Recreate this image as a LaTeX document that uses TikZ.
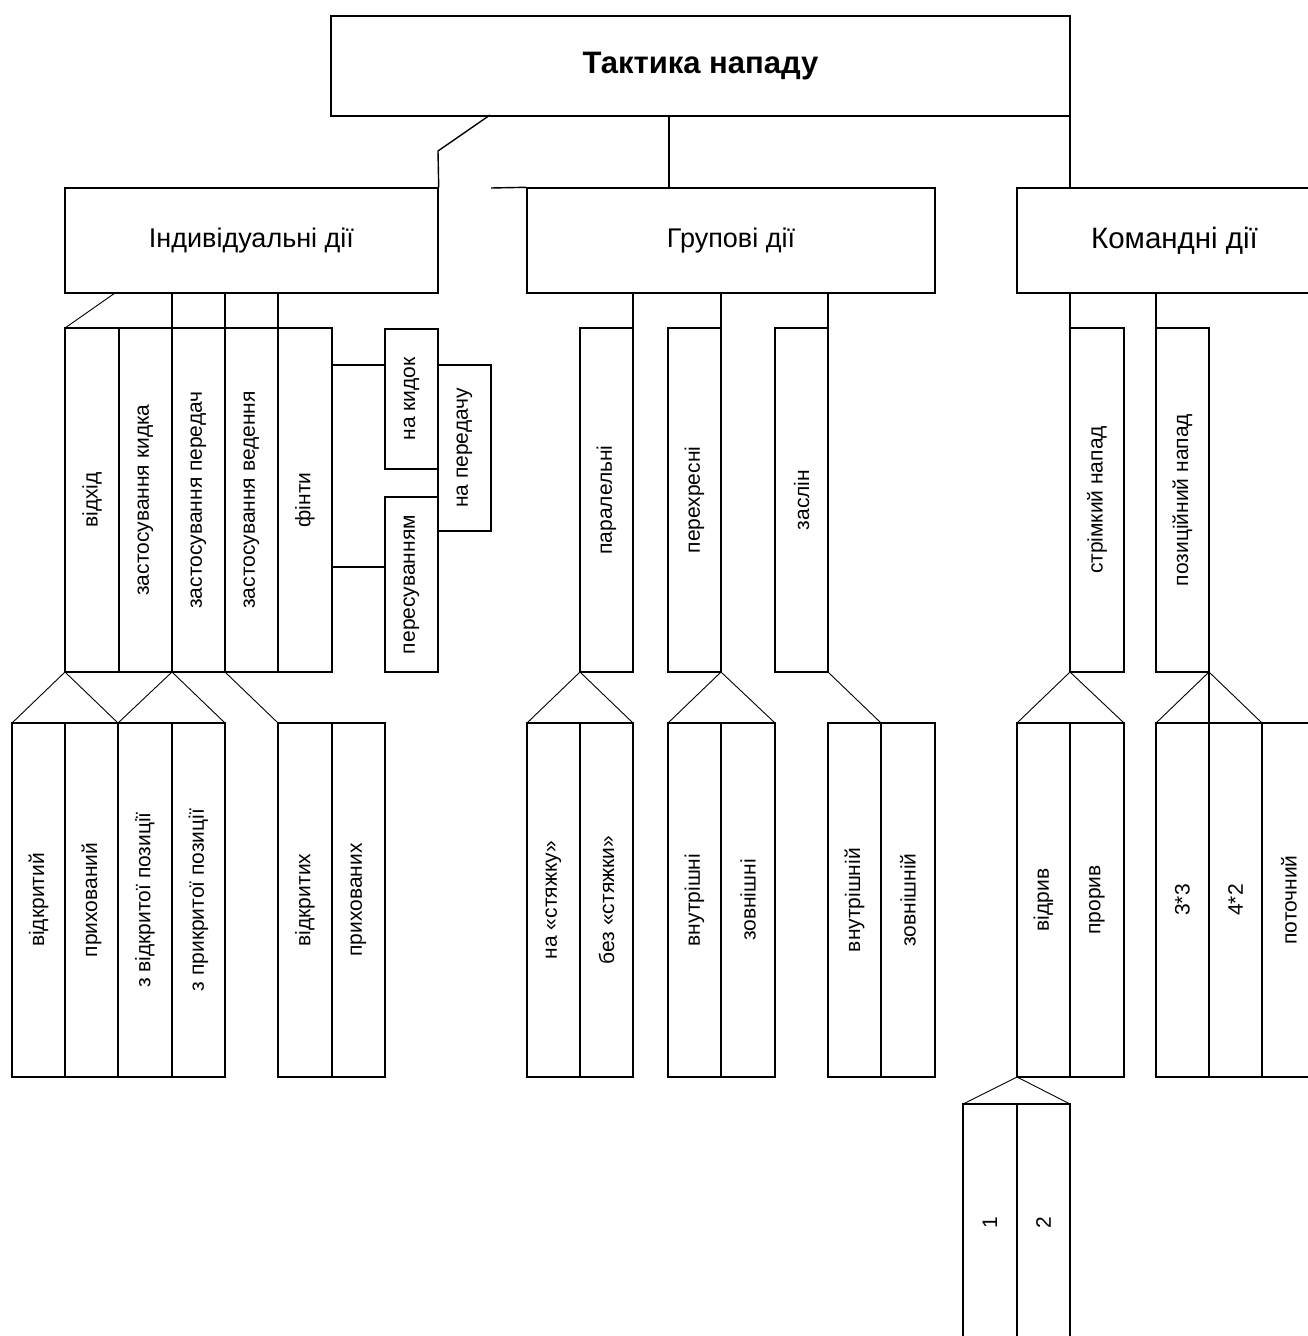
\documentclass[tikz,border=0pt]{standalone}
\usepackage{fontspec}
\setmainfont{Liberation Sans}
\tikzset{
  bx/.style={draw, line width=1.4pt, inner sep=0pt, align=center, font=\fontsize{27}{32}\selectfont},
  vb/.style={draw, line width=1.4pt, inner sep=0pt, rotate=90, font=\fontsize{21}{25}\selectfont},
  ln/.style={line width=1.4pt},
  dg/.style={line width=0.9pt}
}
\newcommand\VB[6]{%
  \pgfmathsetmacro\cxx{(#2+#4)/2}\pgfmathsetmacro\cyy{(#3+#5)/2}%
  \pgfmathsetmacro\ww{#4-#2}\pgfmathsetmacro\hh{#5-#3}%
  \node[vb, minimum width=\hh pt, minimum height=\ww pt] (#1) at (\cxx,\cyy) {#6};}
\begin{document}
\begin{tikzpicture}[x=1pt,y=-1pt]
\clip (0,0) rectangle (1308,1336);
\fill[white] (0,0) rectangle (1308,1336);
% level 0
\node[bx, minimum width=739pt, minimum height=100pt, font=\fontsize{31}{37}\selectfont\bfseries] (top) at (700.5,66) {Тактика нападу};
% level 1
\node[bx, minimum width=373pt, minimum height=105pt] (ind) at (251.5,240.5) {Індивідуальні дії};
\node[bx, minimum width=408pt, minimum height=105pt] (grp) at (731,240.5) {Групові дії};
\node[bx, minimum width=315pt, minimum height=105pt, font=\fontsize{29.5}{35}\selectfont] (cmd) at (1174.5,240.5) {Командні дії};
\coordinate (t1) at (490,115);
\coordinate (t1b) at (438,151);
\draw[ln] (t1) -- (t1b) -- (ind.north east);
\draw[ln] (669,115) -- (669,188);
\draw[ln] (1070,115) -- (1070,188);
\draw[ln] (491,188) -- (grp.north west);
% individual level 2
\VB{vidhid}{65}{328}{119}{672}{відхід}
\VB{kydok}{119}{328}{172}{672}{застосування кидка}
\VB{pered}{172}{328}{225}{672}{застосування передач}
\VB{veden}{225}{328}{278}{672}{застосування ведення}
\VB{finty}{278}{328}{332}{672}{фінти}
\VB{nakyd}{385}{329}{438}{469}{на кидок}
\VB{naper}{438}{365}{491}{531}{на передачу}
\VB{peres}{385}{497}{438}{672}{пересуванням}
\draw[dg] (115,293) -- (65,328);
\draw[ln] (172,293) -- (172,328);
\draw[ln] (225,293) -- (225,328);
\draw[ln] (278,293) -- (278,328);
\draw[ln] (332,365) -- (385,365);
\draw[ln] (332,567) -- (385,567);
% individual level 3
\VB{vidkr}{12}{723}{65}{1077}{відкритий}
\VB{pryh}{65}{723}{118}{1077}{прихований}
\VB{zvid}{118}{723}{172}{1077}{з відкритої позиції}
\VB{zpryk}{172}{723}{225}{1077}{з прикритої позиції}
\VB{vidkrh}{278}{723}{332}{1077}{відкритих}
\VB{pryhh}{332}{723}{385}{1077}{прихованих}
\draw[dg] (12,723) -- (65,672) -- (118,723);
\draw[dg] (118,723) -- (172,672) -- (225,723);
\draw[dg] (225,672) -- (278,723);
% group level 2
\VB{paral}{580}{328}{633}{672}{паралельні}
\VB{perekh}{668}{328}{721}{672}{перехресні}
\VB{zaslin}{775}{328}{828}{672}{заслін}
\draw[ln] (633,293) -- (633,328);
\draw[ln] (721,293) -- (721,328);
\draw[ln] (828,293) -- (828,328);
% group level 3
\VB{nast}{527}{723}{580}{1077}{на «стяжку»}
\VB{bezst}{580}{723}{633}{1077}{без «стяжки»}
\VB{vnutr}{668}{723}{721}{1077}{внутрішні}
\VB{zovn}{721}{723}{775}{1077}{зовнішні}
\VB{vnutrj}{828}{723}{881}{1077}{внутрішній}
\VB{zovnj}{881}{723}{935}{1077}{зовнішній}
\draw[dg] (527,723) -- (580,672) -- (633,723);
\draw[dg] (668,723) -- (721,672) -- (775,723);
\draw[dg] (828,672) -- (881,723);
% command level 2
\VB{strim}{1070}{328}{1124}{672}{стрімкий напад}
\VB{pozyc}{1156}{328}{1209}{672}{позиційний напад}
\draw[ln] (1070,293) -- (1070,328);
\draw[ln] (1156,293) -- (1156,328);
% command level 3
\VB{vidryv}{1017}{723}{1070}{1077}{відрив}
\VB{proryv}{1070}{723}{1124}{1077}{прорив}
\VB{tt}{1156}{723}{1209}{1077}{3*3}
\VB{ff}{1209}{723}{1262}{1077}{4*2}
\VB{potoch}{1262}{723}{1316}{1077}{поточний}
\draw[dg] (1017,723) -- (1070,672) -- (1124,723);
\draw[dg] (1156,723) -- (1209,672) -- (1262,723);
\draw[ln] (1209,672) -- (1209,723);
% command level 4
\VB{one}{963}{1104}{1017}{1341}{1}
\VB{two}{1017}{1104}{1070}{1341}{2}
\draw[dg] (963,1104) -- (1017,1077) -- (1070,1104);
\end{tikzpicture}
\end{document}
